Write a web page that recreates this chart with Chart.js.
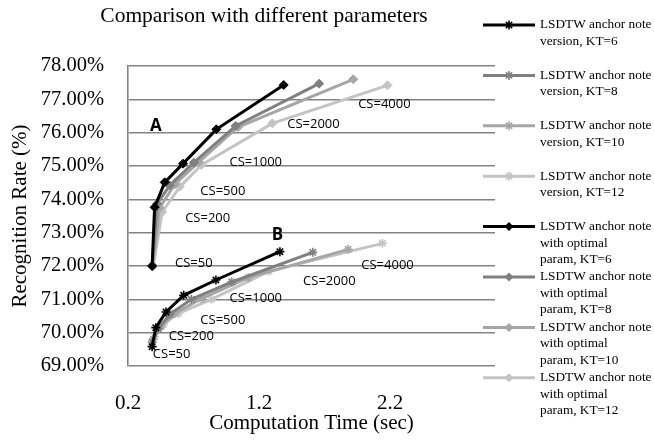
<!DOCTYPE html>
<html>
<head>
<meta charset="utf-8">
<script src="https://cdn.jsdelivr.net/npm/chart.js@4.4.1/dist/chart.umd.min.js"></script>
<style>
  html, body { margin: 0; padding: 0; background: #fff; }
  #wrap { width: 654px; height: 443px; }
</style>
</head>
<body>
<div id="wrap"><canvas id="chart" width="654" height="443"></canvas></div>
<script>
// ---- data ------------------------------------------------------------
const csLabels = ['CS=50', 'CS=200', 'CS=500', 'CS=1000', 'CS=2000', 'CS=4000'];

// B: anchor note version (computation time in sec, recognition rate in %)
const anchorKT6Time  = [0.384, 0.412, 0.490, 0.625, 0.871, 1.359];
const anchorKT6Rate  = [69.58, 70.15, 70.62, 71.12, 71.58, 72.43];
const anchorKT8Time  = [0.384, 0.432, 0.519, 0.683, 0.992, 1.610];
const anchorKT8Rate  = [69.72, 70.12, 70.55, 71.00, 71.52, 72.41];
const anchorKT10Time = [0.393, 0.451, 0.557, 0.760, 1.118, 1.880];
const anchorKT10Rate = [69.80, 70.18, 70.58, 71.02, 71.65, 72.50];
const anchorKT12Time = [0.403, 0.470, 0.586, 0.837, 1.272, 2.141];
const anchorKT12Rate = [69.88, 70.25, 70.58, 71.00, 71.84, 72.68];

// A: anchor note with optimal param
const optKT6Time  = [0.384, 0.403, 0.480, 0.620, 0.874, 1.388];
const optKT6Rate  = [72.00, 73.76, 74.51, 75.07, 76.10, 77.43];
const optKT8Time  = [0.384, 0.422, 0.519, 0.702, 1.021, 1.658];
const optKT8Rate  = [72.00, 73.87, 74.42, 75.10, 76.20, 77.47];
const optKT10Time = [0.388, 0.441, 0.557, 0.741, 1.040, 1.919];
const optKT10Rate = [72.00, 73.75, 74.45, 75.12, 76.17, 77.60];
const optKT12Time = [0.393, 0.461, 0.596, 0.760, 1.301, 2.180];
const optKT12Rate = [72.00, 73.62, 74.38, 75.03, 76.28, 77.42];

const legendLabels = [
  ['LSDTW anchor note', 'version, KT=6'],
  ['LSDTW anchor note', 'version, KT=8'],
  ['LSDTW anchor note', 'version, KT=10'],
  ['LSDTW anchor note', 'version, KT=12'],
  ['LSDTW anchor note', 'with optimal', 'param, KT=6'],
  ['LSDTW anchor note', 'with optimal', 'param, KT=8'],
  ['LSDTW anchor note', 'with optimal', 'param, KT=10'],
  ['LSDTW anchor note', 'with optimal', 'param, KT=12'],
];

const xTicks = [0.2, 1.2, 2.2];
const yTicks = [69, 70, 71, 72, 73, 74, 75, 76, 77, 78];

// text labels placed in data units: [text, time, rate]
const groupLabels = [
  ['A', 0.412, 76.2],
  ['B', 1.34, 72.94],
];
const upperCsPos = [[0.702, 72.07], [0.808, 73.42], [0.924, 74.23], [1.175, 75.10], [1.615, 76.26], [2.156, 76.86]];
const lowerCsPos = [[0.533, 69.35], [0.683, 69.89], [0.924, 70.37], [1.175, 71.02], [1.736, 71.53], [2.18, 72.01]];

// ---- styles ------------------------------------------------------------
const SERIF = "'Liberation Serif', 'Times New Roman', serif";
const SANS  = "'Open Sans', 'Liberation Sans', sans-serif";
const shades = ['#000000', '#808080', '#a6a6a6', '#c4c4c4'];
const GRID = '#838383';

function pts(xs, ys) {
  return xs.map((x, i) => ({ x, y: ys[i] }));
}

function series(label, xs, ys, color, marker) {
  const star = marker === 'star';
  return {
    label,
    data: pts(xs, ys),
    showLine: true,
    borderColor: color,
    backgroundColor: color,
    borderWidth: 3,
    pointStyle: star ? 'star' : 'rectRot',
    pointRadius: 4.5,
    pointBorderWidth: star ? 1.6 : 1,
    pointBorderColor: color,
    pointBackgroundColor: color,
    tension: 0,
  };
}

const datasets = [
  series(legendLabels[0].join(' '), anchorKT6Time,  anchorKT6Rate,  shades[0], 'star'),
  series(legendLabels[1].join(' '), anchorKT8Time,  anchorKT8Rate,  shades[1], 'star'),
  series(legendLabels[2].join(' '), anchorKT10Time, anchorKT10Rate, shades[2], 'star'),
  series(legendLabels[3].join(' '), anchorKT12Time, anchorKT12Rate, shades[3], 'star'),
  series(legendLabels[4].join(' '), optKT6Time,  optKT6Rate,  shades[0], 'diamond'),
  series(legendLabels[5].join(' '), optKT8Time,  optKT8Rate,  shades[1], 'diamond'),
  series(legendLabels[6].join(' '), optKT10Time, optKT10Rate, shades[2], 'diamond'),
  series(legendLabels[7].join(' '), optKT12Time, optKT12Rate, shades[3], 'diamond'),
];

// ---- plugin: title, CS annotations and the side legend -----------------
const decorations = {
  id: 'decorations',
  afterDatasetsDraw(chart) {
    const { ctx, scales: { x, y } } = chart;
    ctx.save();

    // CS labels
    ctx.fillStyle = '#000';
    ctx.textAlign = 'center';
    ctx.textBaseline = 'middle';
    ctx.font = `13px ${SANS}`;
    upperCsPos.forEach(([t, r], i) => ctx.fillText(csLabels[i], x.getPixelForValue(t), y.getPixelForValue(r)));
    lowerCsPos.forEach(([t, r], i) => ctx.fillText(csLabels[i], x.getPixelForValue(t), y.getPixelForValue(r)));

    ctx.font = `bold 17px ${SANS}`;
    groupLabels.forEach(([txt, t, r]) => ctx.fillText(txt, x.getPixelForValue(t), y.getPixelForValue(r)));

    // chart title
    ctx.font = `21.5px ${SERIF}`;
    ctx.fillText('Comparison with different parameters', 264, 16);

    // legend
    const lx0 = 483, lx1 = 535, tx = 540;
    ctx.textAlign = 'left';
    ctx.font = `13.3px ${SERIF}`;
    chart.data.datasets.forEach((ds, i) => {
      const ly = 25 + i * 50.4;
      ctx.strokeStyle = ds.borderColor;
      ctx.lineWidth = 3;
      ctx.beginPath();
      ctx.moveTo(lx0, ly);
      ctx.lineTo(lx1, ly);
      ctx.stroke();
      const mx = (lx0 + lx1) / 2;
      const r = 4.5;
      if (ds.pointStyle === 'star') {
        ctx.lineWidth = 1.6;
        ctx.beginPath();
        ctx.moveTo(mx - r, ly); ctx.lineTo(mx + r, ly);
        ctx.moveTo(mx, ly - r); ctx.lineTo(mx, ly + r);
        ctx.moveTo(mx - r * 0.7, ly - r * 0.7); ctx.lineTo(mx + r * 0.7, ly + r * 0.7);
        ctx.moveTo(mx - r * 0.7, ly + r * 0.7); ctx.lineTo(mx + r * 0.7, ly - r * 0.7);
        ctx.stroke();
      } else {
        ctx.fillStyle = ds.borderColor;
        ctx.beginPath();
        ctx.moveTo(mx, ly - r); ctx.lineTo(mx + r, ly);
        ctx.lineTo(mx, ly + r); ctx.lineTo(mx - r, ly);
        ctx.closePath();
        ctx.fill();
      }
      ctx.fillStyle = '#000';
      legendLabels[i].forEach((line, j) => ctx.fillText(line, tx, ly + j * 16.5));
    });

    ctx.restore();
  },
};

// ---- chart -------------------------------------------------------------
new Chart(document.getElementById('chart').getContext('2d'), {
  type: 'scatter',
  data: { datasets },
  options: {
    responsive: false,
    animation: false,
    layout: { padding: { top: 66, right: 159, bottom: 0, left: 0 } },
    plugins: {
      legend:  { display: false },
      title:   { display: false },
      tooltip: { enabled: false },
    },
    scales: {
      x: {
        type: 'linear',
        min: 0.2,
        max: 3.0,
        afterBuildTicks: (axis) => { axis.ticks = xTicks.map(v => ({ value: v })); },
        afterFit: (axis) => { axis.height = 77; },
        grid:   { display: false, drawTicks: false },
        border: { display: false },
        ticks:  { color: '#000', padding: 25, maxRotation: 0, font: { family: SERIF, size: 21 } },
        title:  {
          display: true,
          text: 'Computation Time (sec)',
          color: '#000',
          font: { family: SERIF, size: 21 },
          padding: { top: 0, bottom: 7 },
        },
      },
      y: {
        type: 'linear',
        min: 69,
        max: 78,
        afterBuildTicks: (axis) => { axis.ticks = yTicks.map(v => ({ value: v })); },
        afterFit: (axis) => { axis.width = 128; },
        grid:   { color: GRID, lineWidth: 1.6, drawTicks: false },
        border: { display: true, color: GRID, width: 1.6 },
        ticks:  {
          color: '#000',
          padding: 24,
          font: { family: SERIF, size: 20.5 },
          callback: (v) => v.toFixed(2) + '%',
        },
        title: {
          display: true,
          text: 'Recognition Rate (%)',
          color: '#000',
          font: { family: SERIF, size: 21 },
          padding: { top: 8, bottom: 0 },
        },
      },
    },
  },
  plugins: [decorations],
});
</script>
</body>
</html>
